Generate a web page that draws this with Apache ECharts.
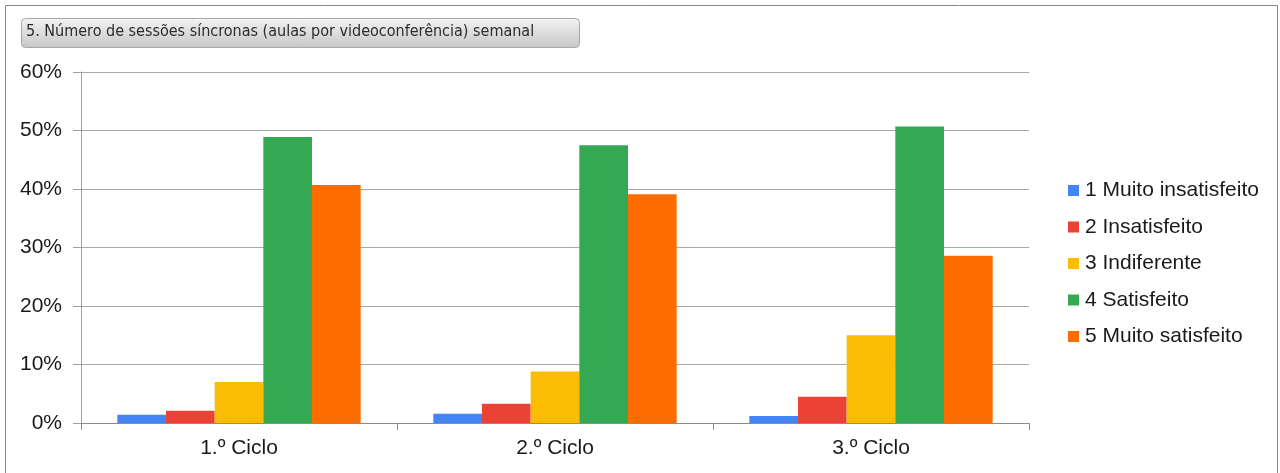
<!DOCTYPE html>
<html>
<head>
<meta charset="utf-8">
<script src="https://cdn.jsdelivr.net/npm/echarts@6/dist/echarts.min.js"></script>
<style>
  html, body { margin: 0; padding: 0; background: #fff; }
  #main { width: 1280px; height: 473px; }
</style>
</head>
<body>
<div id="main"></div>
<script>
// valores (em %)
const ciclos = ['1.º Ciclo', '2.º Ciclo', '3.º Ciclo'];
const muitoInsatisfeito = [1.4, 1.6, 1.2];
const insatisfeito = [2.1, 3.3, 4.5];
const indiferente = [7.0, 8.8, 15.0];
const satisfeito = [48.9, 47.5, 50.7];
const muitoSatisfeito = [40.7, 39.1, 28.6];

const nomes = ['1 Muito insatisfeito', '2 Insatisfeito', '3 Indiferente', '4 Satisfeito', '5 Muito satisfeito'];
const cores = ['#4285F4', '#EA4335', '#FBBC04', '#34A853', '#FF6D01'];
const valores = [muitoInsatisfeito, insatisfeito, indiferente, satisfeito, muitoSatisfeito];

const titulo = '5. Número de sessões síncronas (aulas por videoconferência) semanal';
const fonte = 'Liberation Sans';

var myChart = echarts.init(document.getElementById('main'), null, { renderer: 'canvas' });

var option = {
    animation: false,
    color: cores,
    textStyle: { fontFamily: fonte },
    graphic: [
        {
            type: 'rect',
            z: 0,
            shape: { x: 5.5, y: 5.5, width: 1272, height: 480 },
            style: { fill: 'none', stroke: '#8a8a8a', lineWidth: 1 }
        },
        {
            type: 'rect',
            shape: { x: 21.5, y: 18.5, width: 558, height: 29, r: 4 },
            style: {
                fill: new echarts.graphic.LinearGradient(0, 0, 0, 1, [
                    { offset: 0, color: '#f3f3f3' },
                    { offset: 1, color: '#c6c6c6' }
                ]),
                stroke: '#a8a8a8',
                lineWidth: 1
            }
        },
        {
            type: 'text',
            left: 26,
            top: 24,
            style: {
                text: titulo,
                fontFamily: 'DejaVu Sans Condensed, DejaVu Sans, sans-serif',
                fontSize: 16,
                fill: '#2b2b2b'
            }
        }
    ],
    legend: {
        orient: 'vertical',
        left: 1063,
        top: 175,
        itemWidth: 11,
        itemHeight: 11,
        itemGap: 15.5,
        icon: 'rect',
        data: nomes,
        textStyle: { fontFamily: fonte, fontSize: 21, color: '#1a1a1a', padding: [0, 0, 0, 1] }
    },
    grid: {
        left: 81,
        right: 251,
        top: 72,
        bottom: 50
    },
    xAxis: {
        type: 'category',
        data: ciclos,
        axisLine: { lineStyle: { color: '#8c8c8c', width: 1 } },
        axisTick: { show: true, length: 7, lineStyle: { color: '#8c8c8c' } },
        axisLabel: { fontFamily: fonte, fontSize: 21, color: '#1a1a1a', margin: 15 }
    },
    yAxis: {
        type: 'value',
        min: 0,
        max: 60,
        interval: 10,
        axisLine: { show: true, lineStyle: { color: '#a0a0a0', width: 1 } },
        axisTick: { show: true, length: 8, lineStyle: { color: '#a0a0a0' } },
        axisLabel: { formatter: '{value}%', fontFamily: fonte, fontSize: 21, color: '#1a1a1a', margin: 19 },
        splitLine: { lineStyle: { color: '#a8a8a8', width: 1 } }
    },
    series: nomes.map(function (n, i) {
        return {
            name: n,
            type: 'bar',
            data: valores[i],
            barGap: '0%',
            barCategoryGap: '23%'
        };
    })
};

option && myChart.setOption(option);
</script>
</body>
</html>
